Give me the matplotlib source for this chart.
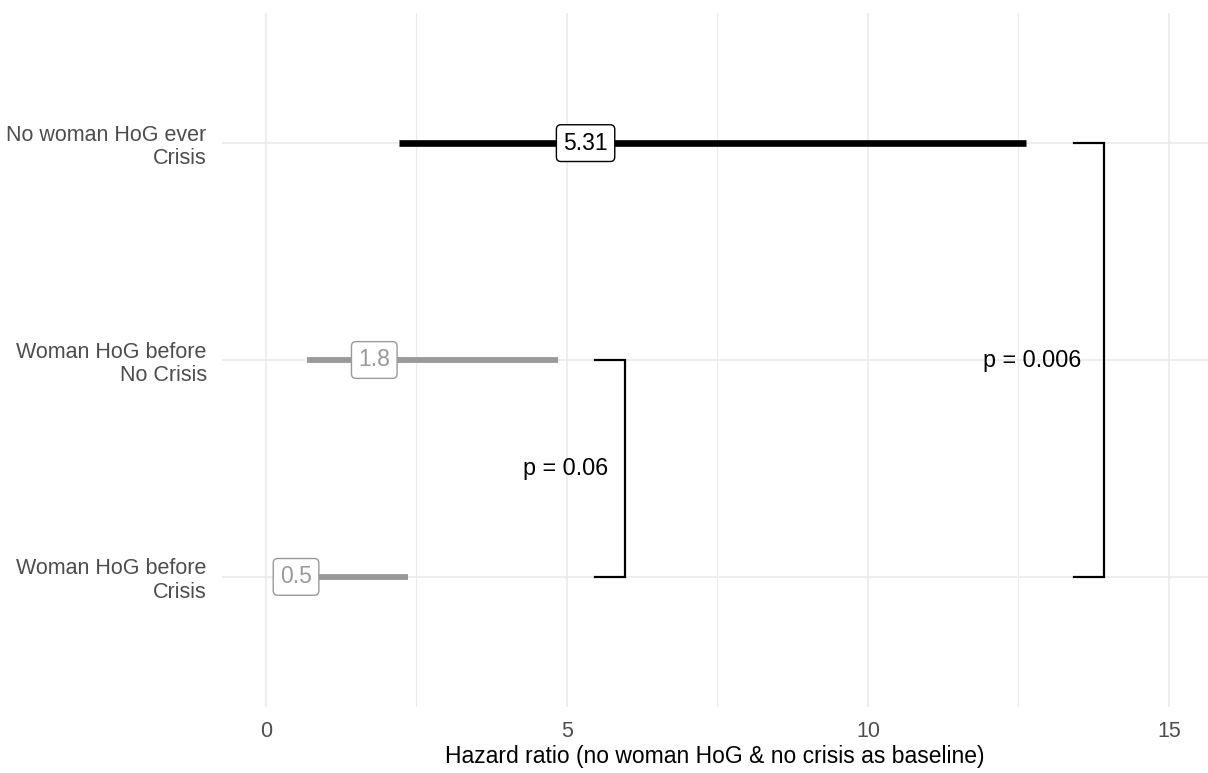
import matplotlib
matplotlib.use("Agg")
import matplotlib.pyplot as plt
from matplotlib.ticker import MultipleLocator

plt.rcParams['font.family'] = ['Liberation Sans', 'DejaVu Sans']

# Data
groups = ["No woman HoG ever\nCrisis", "Woman HoG before\nNo Crisis", "Woman HoG before\nCrisis"]
estimates = [5.31, 1.8, 0.5]
lower = [2.21, 0.68, 0.3]
upper = [12.62, 4.85, 2.36]
highlight = [True, False, False]

# comparisons: from group, to group, bracket x, label x, p label
comp_from = [2, 1]
comp_to = [0, 2]
comp_x = [13.92, 5.97]
comp_label_x = [12.72, 4.97]
comp_label = ["p = 0.006", "p = 0.06"]

GRID = "#EBEBEB"
GREY = "#999999"
TXT = "#4D4D4D"

fig = plt.figure(figsize=(12.08, 7.73), dpi=100)
ax = fig.add_axes([222/1208, 66/773, 986/1208, 694/773])

ypos = [len(groups) - 1 - i for i in range(len(groups))]

for i, g in enumerate(groups):
    col = "black" if highlight[i] else GREY
    lw = 4.8 if highlight[i] else 4.2
    ax.plot([lower[i], upper[i]], [ypos[i], ypos[i]], color=col, lw=lw,
            solid_capstyle="butt", zorder=3)
    ax.text(estimates[i], ypos[i], f"{estimates[i]:g}", ha="center", va="center",
            fontsize=16.5, color=col, zorder=4,
            bbox=dict(boxstyle="round,pad=0.3,rounding_size=0.2", fc="white",
                      ec=col, lw=1.0))

# significance brackets
for a, b, x, lx, lab in zip(comp_from, comp_to, comp_x, comp_label_x, comp_label):
    ya, yb = ypos[a], ypos[b]
    ax.plot([x - 0.5, x, x, x - 0.5], [ya, ya, yb, yb], color="black", lw=1.6,
            zorder=3, solid_joinstyle="miter")
    ax.text(lx, (ya + yb) / 2, lab, ha="center", va="center",
            fontsize=16.8, color="black", zorder=4)

ax.set_xlim(-0.73, 15.65)
ax.set_ylim(-0.6, 2.6)
ax.set_yticks(ypos)
ax.set_yticklabels(groups, ha="right", color=TXT, fontsize=15.5, linespacing=1.15)
ax.xaxis.set_major_locator(MultipleLocator(5))
ax.xaxis.set_minor_locator(MultipleLocator(2.5))
ax.tick_params(axis="both", which="both", length=0, labelsize=15.5, labelcolor=TXT)
ax.tick_params(axis="x", pad=10)
ax.tick_params(axis="y", pad=11)
ax.grid(True, which="major", color=GRID, lw=1.2, zorder=0)
ax.grid(True, which="minor", axis="x", color=GRID, lw=0.8, zorder=0)
ax.set_axisbelow(True)
for s in ax.spines.values():
    s.set_visible(False)

ax.set_xlabel("Hazard ratio (no woman HoG & no crisis as baseline)",
              fontsize=16.5, color="black", labelpad=2)

fig.savefig("out.png", dpi=100)
